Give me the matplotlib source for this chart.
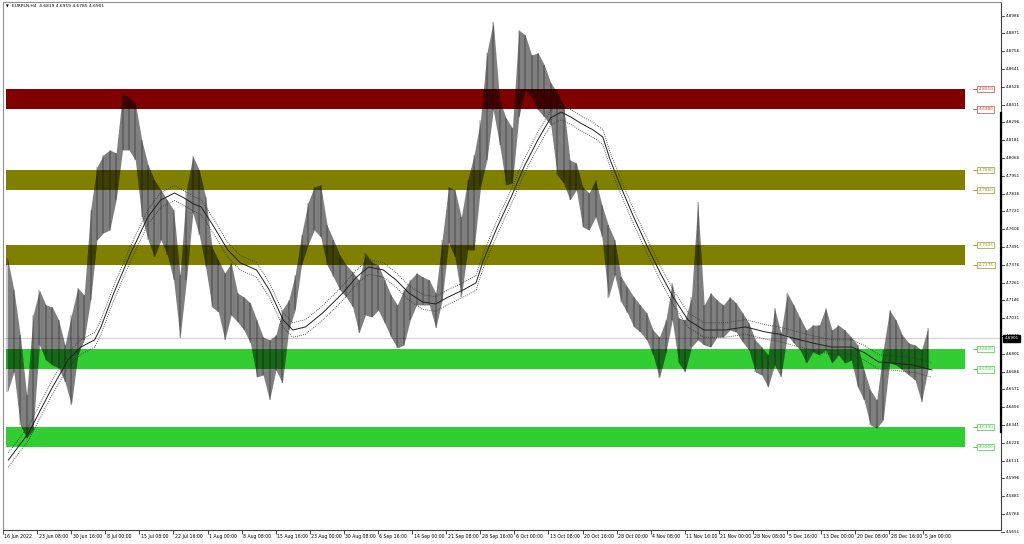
import numpy as np
import matplotlib
matplotlib.use("Agg")
import matplotlib.pyplot as plt
import matplotlib.transforms as mtransforms

# EURPLN H4: one high/low pair per trading day (6 H4 bars)
day_high = [4.7420, 4.7214, 4.6923, 4.6535, 4.7052, 4.7214, 4.7117, 4.7104, 4.7020, 4.6858,
            4.7052, 4.7227, 4.7181, 4.7730, 4.8008, 4.8086, 4.8118, 4.8099, 4.8486, 4.8454,
            4.8422, 4.8183, 4.8021, 4.7924, 4.7860, 4.7795, 4.7730, 4.7310, 4.7860, 4.8079,
            4.7989, 4.7814, 4.7491, 4.7407, 4.7323, 4.7388, 4.7194, 4.7168, 4.7130, 4.7020,
            4.6910, 4.6891, 4.6923, 4.7084, 4.7149, 4.7310, 4.7569, 4.7776, 4.7879, 4.7892,
            4.7633, 4.7537, 4.7440, 4.7375, 4.7330, 4.7278, 4.7453, 4.7394, 4.7375, 4.7278,
            4.7181, 4.7117, 4.7214, 4.7278, 4.7323, 4.7298, 4.7278, 4.7194, 4.7537, 4.7879,
            4.7860, 4.7685, 4.7924, 4.8086, 4.8312, 4.8745, 4.8945, 4.8441, 4.8325, 4.8260,
            4.8893, 4.8861, 4.8732, 4.8745, 4.8667, 4.8551, 4.8493, 4.8409, 4.8053, 4.8034,
            4.7879, 4.7840, 4.7924, 4.7763, 4.7633, 4.7537, 4.7298, 4.7233, 4.7168, 4.7117,
            4.7065, 4.6955, 4.6910, 4.7020, 4.7259, 4.7033, 4.7020, 4.7168, 4.7782, 4.7117,
            4.7194, 4.7149, 4.7117, 4.7168, 4.7130, 4.7065, 4.7000, 4.6891, 4.6845, 4.6794,
            4.7097, 4.6936, 4.7194, 4.7117, 4.7033, 4.6955, 4.6987, 4.6987, 4.7097, 4.6955,
            4.6987, 4.6955, 4.6910, 4.6858, 4.6697, 4.6568, 4.6503, 4.6826, 4.7084, 4.7020,
            4.6923, 4.6871, 4.6858, 4.6826, 4.6968]
day_low = [4.6555, 4.6684, 4.6341, 4.6258, 4.6309, 4.6858, 4.6761, 4.6729, 4.6710, 4.6619,
           4.6471, 4.6794, 4.6891, 4.7149, 4.7537, 4.7582, 4.7601, 4.7795, 4.8118, 4.8118,
           4.8053, 4.7685, 4.7537, 4.7427, 4.7537, 4.7440, 4.7278, 4.6904, 4.7278, 4.7711,
           4.7569, 4.7362, 4.7104, 4.7071, 4.6891, 4.7052, 4.7007, 4.6955, 4.6871, 4.6652,
           4.6664, 4.6503, 4.6697, 4.6613, 4.6955, 4.7084, 4.7375, 4.7504, 4.7601, 4.7556,
           4.7375, 4.7298, 4.7214, 4.7168, 4.7104, 4.6936, 4.7052, 4.7039, 4.7084, 4.7000,
           4.6910, 4.6839, 4.6858, 4.7020, 4.7117, 4.7117, 4.7117, 4.6968, 4.7149, 4.7517,
           4.7427, 4.7168, 4.7472, 4.7472, 4.7879, 4.8053, 4.8376, 4.8150, 4.7892, 4.7905,
           4.8331, 4.8506, 4.8460, 4.8376, 4.8331, 4.8279, 4.7956, 4.7905, 4.7795, 4.7860,
           4.7621, 4.7601, 4.7685, 4.7556, 4.7162, 4.7310, 4.7136, 4.7065, 4.6975, 4.6942,
           4.6891, 4.6794, 4.6645, 4.6807, 4.7020, 4.6742, 4.6684, 4.6845, 4.6891, 4.6858,
           4.6845, 4.6910, 4.6910, 4.6955, 4.6942, 4.6878, 4.6826, 4.6684, 4.6664, 4.6587,
           4.6729, 4.6652, 4.6923, 4.6871, 4.6826, 4.6742, 4.6813, 4.6794, 4.6826, 4.6742,
           4.6794, 4.6742, 4.6761, 4.6587, 4.6503, 4.6341, 4.6322, 4.6374, 4.6742, 4.6729,
           4.6697, 4.6664, 4.6632, 4.6490, 4.6697]

# moving average (solid) read at bar positions; envelopes are +-0.1 %
ma_bar = [5, 24, 45, 61, 73, 86, 92, 104, 120, 136, 148, 161, 170, 179, 186, 198, 211, 223,
          238, 250, 263, 272, 284, 300, 319, 331, 343, 357, 369, 381, 394, 406, 418, 432, 444,
          451, 464, 477, 489, 502, 514, 524, 533, 542, 554, 563, 570, 580, 592, 605, 617, 629,
          643, 658, 678, 697, 716, 728, 741, 760, 778, 797, 809, 822, 835, 854, 872]
ma_price = [4.6115, 4.6290, 4.6568, 4.6761, 4.6845, 4.6891, 4.6975, 4.7194, 4.7453, 4.7685,
            4.7795, 4.7840, 4.7808, 4.7769, 4.7750, 4.7621, 4.7472, 4.7388, 4.7343, 4.7214,
            4.7020, 4.6955, 4.6975, 4.7065, 4.7194, 4.7291, 4.7362, 4.7343, 4.7278, 4.7194,
            4.7136, 4.7123, 4.7168, 4.7214, 4.7259, 4.7407, 4.7621, 4.7814, 4.8008, 4.8183,
            4.8325, 4.8363, 4.8331, 4.8292, 4.8247, 4.8202, 4.8053, 4.7879, 4.7685, 4.7491,
            4.7323, 4.7168, 4.7020, 4.6955, 4.6955, 4.6975, 4.6942, 4.6929, 4.6904, 4.6871,
            4.6845, 4.6845, 4.6807, 4.6748, 4.6742, 4.6729, 4.6697]

zone_lo = [4.8380, 4.7860, 4.7375, 4.6700, 4.6200]
zone_hi = [4.8510, 4.7990, 4.7505, 4.6830, 4.6330]
zone_color = ['#800000', '#808000', '#808000', '#32cd32', '#32cd32']
zone_text = ['#c84848', '#98982a', '#98982a', '#44cc44', '#44cc44']

price_ticks = [4.8986, 4.8871, 4.8756, 4.8641, 4.8526, 4.8411, 4.8296, 4.8181, 4.8066, 4.7951,
               4.7836, 4.7721, 4.7606, 4.7491, 4.7376, 4.7261, 4.7146, 4.7031, 4.6916, 4.6801,
               4.6686, 4.6571, 4.6456, 4.6341, 4.6226, 4.6111, 4.5996, 4.5881, 4.5766, 4.5651]
date_labels = ['16 Jun 2022', '23 Jun 08:00', '30 Jun 16:00', '8 Jul 00:00', '15 Jul 08:00',
               '22 Jul 16:00', '1 Aug 00:00', '8 Aug 08:00', '15 Aug 16:00', '23 Aug 00:00',
               '30 Aug 08:00', '6 Sep 16:00', '14 Sep 00:00', '21 Sep 08:00', '28 Sep 16:00',
               '6 Oct 00:00', '13 Oct 08:00', '20 Oct 16:00', '28 Oct 00:00', '4 Nov 08:00',
               '11 Nov 16:00', '21 Nov 00:00', '28 Nov 08:00', '5 Dec 16:00', '13 Dec 00:00',
               '20 Dec 08:00', '28 Dec 16:00', '5 Jan 00:00']
bars_per_label = 32
last_ohlc = [4.6819, 4.6959, 4.6785, 4.6901]
scale_mark = [4.6296, 4.8357]

fig = plt.figure(figsize=(10.24, 5.44), dpi=100)
ax = fig.add_axes([3 / 1024, 14 / 544, 998 / 1024, 528 / 544])
ax.set_xlim(1.2, 936.8)
ax.set_ylim(4.5663, 4.9074)

# zones
for lo, hi, c in zip(zone_lo, zone_hi, zone_color):
    ax.fill_between([3, 903], lo, hi, color=c, lw=0, zorder=1)

# current price line
ax.axhline(last_ohlc[3], color='#d0d0d0', lw=0.8, zorder=2)

# price range band: black at 50 % so it darkens the zone colour like the original bars
hi = np.array(day_high)
lo = np.array(day_low)
xb = np.arange(len(hi)) * 6 + 4.2
ax.fill_between(xb, lo, hi, color='black', alpha=0.5, lw=0, zorder=3)
ax.vlines(xb, lo, hi, color='black', alpha=0.25, lw=1.2, zorder=3)

# MA and envelopes
ma = np.array(ma_price)
ax.plot(ma_bar, ma, color='#202020', lw=0.7, zorder=4)
ax.plot(ma_bar, ma * 1.001, color='#303030', lw=0.6, ls=(0, (1, 1.5)), zorder=4)
ax.plot(ma_bar, ma * 0.999, color='#303030', lw=0.6, ls=(0, (1, 1.5)), zorder=4)

# zone price labels
for lo_, hi_, c, tc in zip(zone_lo, zone_hi, zone_color, zone_text):
    for v in (hi_, lo_):
        ax.plot([910.6, 915.3], [v, v], color=tc, lw=0.6, zorder=5)
        ax.text(915.5, v, '%.4f' % v, fontsize=3.1, color=tc, ha='left', va='center',
                zorder=6, bbox=dict(boxstyle='square,pad=0.25', fc='white', ec=tc, lw=0.5))

# right price scale drawn by hand
ax.set_yticks([])
trans_r = mtransforms.blended_transform_factory(ax.transAxes, ax.transData)
for v in price_ticks:
    ax.plot([1.0, 1.003], [v, v], color='black', lw=0.5, transform=trans_r, clip_on=False)
    ax.text(1.005, v, '%.4f' % v, fontsize=3.0, ha='left', va='center',
            transform=trans_r, clip_on=False)
ax.text(1.0035, last_ohlc[3], '%.4f' % last_ohlc[3], fontsize=3.0, color='white',
        ha='left', va='center', transform=trans_r, clip_on=False, zorder=10,
        bbox=dict(boxstyle='square,pad=0.3', fc='black', ec='black'))
ax.plot([0.9995, 0.9995], scale_mark, color='black', lw=1.6, transform=trans_r,
        clip_on=False, zorder=9)

# time axis
ticks = [i * bars_per_label for i in range(len(date_labels))]
ax.set_xticks(ticks)
ax.set_xticklabels(date_labels, fontsize=3.3)
ax.tick_params(axis='x', length=3, width=0.5, pad=-0.5, color='black')
offset = mtransforms.ScaledTranslation(1.5 / 100, -0.5 / 100, fig.dpi_scale_trans)
for lab in ax.get_xticklabels():
    lab.set_ha('left')
    lab.set_transform(lab.get_transform() + offset)

for s in ['left', 'top']:
    ax.spines[s].set_color('#909090')
    ax.spines[s].set_linewidth(0.8)
for s in ['right', 'bottom']:
    ax.spines[s].set_color('#404040')
    ax.spines[s].set_linewidth(0.8)

fig.text(6 / 1024, 1 - 6 / 544, '\u25bc', fontsize=2.6, ha='left', va='center')
fig.text(12 / 1024, 1 - 6 / 544,
         'EURPLN,H4  ' + ' '.join('%.4f' % v for v in last_ohlc),
         fontsize=3.2, ha='left', va='center')

fig.savefig('out.png', dpi=100)
